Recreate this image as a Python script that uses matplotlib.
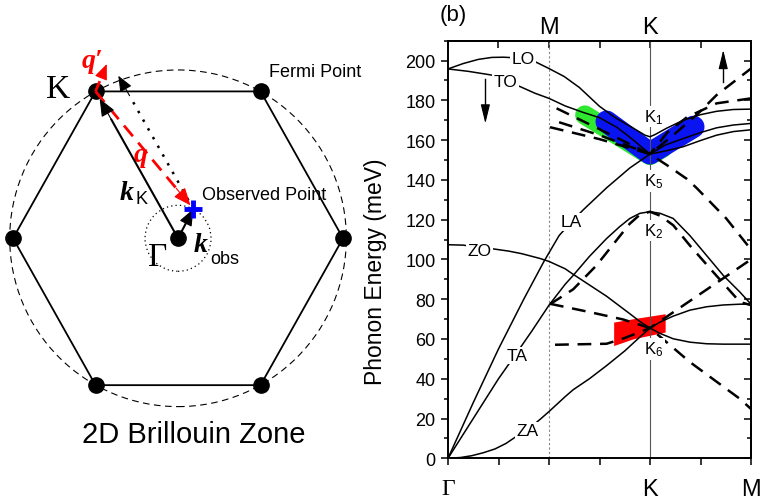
import matplotlib
matplotlib.use("Agg")
import matplotlib.pyplot as plt
from matplotlib.patches import Circle
from matplotlib.ticker import MultipleLocator

plt.rcParams["font.family"] = ["Liberation Sans", "DejaVu Sans"]
plt.rcParams["mathtext.fontset"] = "custom"
plt.rcParams["mathtext.rm"] = "Liberation Sans"
plt.rcParams["mathtext.it"] = "Liberation Sans:italic"
SERIF = ["Liberation Serif", "DejaVu Serif"]

# ---- (a) 2D Brillouin zone, lengths in units of |Gamma-K| ----
bz_x = [1.0, 0.5, -0.5, -1.0, -0.5, 0.5]
bz_y = [0.0, 0.89, 0.89, 0.0, -0.89, -0.89]
fermi_r = 1.02
obs_r = 0.20
gamma_pt = (0.0, 0.0)
k_pt = (-0.5, 0.89)
obs_pt = (0.093, 0.178)
q_prime_end = (-0.432, 1.056)
shift_end = (-0.362, 0.985)

# ---- (b) phonon branches along Gamma(0) - K(4) - M(6), M' marked at 2 ----
lo_x = [0, 0.3, 0.6, 0.87, 1.1, 1.48, 1.72, 2.0, 2.3, 2.6, 3.0, 3.3, 3.67, 3.9, 4.0,
        4.1, 4.33, 4.66, 5.0, 5.32, 5.65, 6.0]
lo_y = [195.8, 198.5, 200.6, 201.6, 201.7, 201.2, 199.5, 196.0, 192.0, 186.5, 177.0,
        171.5, 166.0, 162.5, 161.7, 162.8, 166.0, 170.0, 172.8, 174.5, 175.4, 175.6]
to_x = [0, 0.4, 0.87, 1.14, 1.43, 1.72, 2.0, 2.32, 2.67, 3.0, 3.34, 3.6, 3.85, 4.0,
        4.3, 4.66, 5.0, 5.32, 5.65, 6.0]
to_y = [195.8, 194.6, 192.7, 190.0, 186.9, 183.6, 181.0, 177.2, 174.0, 171.3, 166.5,
        161.5, 156.2, 153.0, 157.5, 160.8, 163.8, 166.2, 167.6, 168.4]
la_x = [0, 0.5, 1.0, 1.5, 1.9, 2.2, 2.45, 2.68, 3.14, 3.6, 4.0,
        4.3, 4.66, 5.0, 5.32, 5.65, 6.0]
la_y = [0, 28.0, 55.0, 80.0, 99.0, 112.0, 119.0, 125.0, 136.0, 146.0, 153.0,
        154.5, 156.7, 159.8, 162.5, 164.3, 165.2]
ta_x = [0, 0.5, 1.0, 1.36, 1.66, 2.0, 2.32, 2.48, 2.8, 3.14, 3.4, 3.6, 3.8, 4.0,
        4.2, 4.46, 4.79, 5.12, 5.45, 5.78, 6.0]
ta_y = [0, 20.0, 40.0, 53.0, 64.0, 77.0, 87.5, 92.0, 101.5, 110.5, 116.5, 120.6,
        123.2, 124.0, 123.2, 120.6, 112.0, 102.0, 92.0, 83.6, 77.5]
zo_x = [0, 0.3, 0.62, 0.87, 1.2, 1.46, 1.82, 2.0, 2.32, 2.48, 2.81, 3.14, 3.6, 3.8,
        4.0, 4.2, 4.46, 4.79, 5.12, 5.45, 6.0]
zo_y = [107.4, 107.2, 106.0, 105.4, 104.2, 102.9, 100.5, 99.0, 95.3, 92.5, 87.0,
        81.5, 72.7, 68.8, 65.5, 62.8, 60.1, 58.4, 57.6, 57.4, 57.4]
za_x = [0, 0.25, 0.47, 0.7, 0.93, 1.15, 1.33, 1.58, 1.82, 2.0, 2.32, 2.48, 2.8, 3.14,
        3.5, 3.8, 4.0, 4.2, 4.46, 4.79, 5.12, 5.45, 5.78, 6.0]
za_y = [0, 0.4, 1.3, 2.8, 4.7, 7.5, 10.6, 14.5, 19.5, 23.5, 31.0, 34.5, 40.0, 46.6,
        54.0, 61.0, 65.5, 68.5, 71.5, 74.5, 76.2, 77.1, 77.5, 77.5]

# folded (shifted) branches, dashed
fold1_x = [2.15, 3.0, 4.0, 4.33, 4.73, 4.92, 5.51, 6.0]
fold1_y = [176.0, 165.5, 153.0, 147.5, 140.5, 136.0, 120.6, 105.0]
fold2_x = [2.02, 3.0, 4.0, 4.46, 4.92, 5.32, 6.0]
fold2_y = [166.5, 160.5, 153.0, 162.5, 172.6, 182.7, 196.0]
fold3_x = [2.2, 3.0, 4.0, 4.35, 4.73, 5.32, 6.0]
fold3_y = [169.0, 162.5, 153.0, 164.0, 171.5, 178.5, 181.0]
fold4_x = [2.02, 2.48, 2.94, 3.41, 3.6, 3.8, 4.0, 4.2, 4.46, 4.79, 5.25, 5.78, 6.0]
fold4_y = [77.5, 85.0, 97.0, 112.0, 118.0, 122.5, 124.0, 122.0, 117.2, 107.0, 93.7,
           78.6, 77.0]
fold5_x = [2.02, 2.81, 3.47, 4.0, 4.79, 5.78, 6.0]
fold5_y = [77.7, 73.5, 69.8, 65.5, 48.4, 29.9, 24.8]
fold6_x = [2.12, 3.14, 3.5, 4.0, 6.0]
fold6_y = [57.1, 57.6, 60.5, 65.5, 100.0]

# observed intensity traces
green_x = [2.71, 4.0, 4.25]
green_y = [172.6, 152.3, 156.0]
blue_x = [3.14, 4.0, 4.86]
blue_y = [169.3, 153.3, 166.7]
red_x = [3.28, 3.67, 4.3]
red_lo = [56.7, 60.1, 63.5]
red_hi = [68.5, 70.2, 72.7]

branch_names = ["LO", "TO", "LA", "TA", "ZO", "ZA"]
name_x = [1.48, 1.14, 2.45, 1.36, 0.62, 1.58]
name_y = [201.2, 189.4, 119.0, 51.7, 104.6, 13.9]
kpt_names = ["K$_\\mathregular{1}$", "K$_\\mathregular{5}$", "K$_\\mathregular{2}$",
             "K$_\\mathregular{6}$"]
kpt_y = [172.0, 139.5, 114.7, 55.0]


def arrow(ax, start, end, color, lw, ls="-", hl=0.6, hw=0.25, scale=16, frac=1.0):
    tip = (start[0] + frac * (end[0] - start[0]), start[1] + frac * (end[1] - start[1]))
    base = (start[0] + 0.85 * (tip[0] - start[0]), start[1] + 0.85 * (tip[1] - start[1]))
    ax.plot([start[0], base[0]], [start[1], base[1]], color=color, lw=lw, ls=ls, zorder=4)
    ax.annotate("", xy=tip, xytext=base,
                arrowprops=dict(arrowstyle=f"-|>,head_length={hl},head_width={hw}",
                                color=color, lw=0.8, shrinkA=0, shrinkB=0,
                                mutation_scale=scale), zorder=5)


fig = plt.figure(figsize=(7.68, 5.02), dpi=100)

# ---------------- panel (a) ----------------
ax_bz = fig.add_axes([0, 0, 380 / 768, 1])
ax_bz.set_xlim(-1.079, 1.224)
ax_bz.set_ylim(-1.592, 1.450)
ax_bz.axis("off")

ax_bz.add_patch(Circle(gamma_pt, fermi_r, fill=False, color="black", lw=0.8,
                       ls=(0, (6, 4))))
ax_bz.add_patch(Circle(gamma_pt, obs_r, fill=False, color="black", lw=0.9,
                       ls=(0, (1, 2.5))))
ax_bz.plot(bz_x + bz_x[:1], bz_y + bz_y[:1], color="black", lw=1.3, zorder=2)
ax_bz.plot(bz_x + [gamma_pt[0]], bz_y + [gamma_pt[1]], "o", color="black", ms=11,
           ls="none", zorder=3)

arrow(ax_bz, gamma_pt, k_pt, "black", 1.5, frac=0.95, scale=18)
arrow(ax_bz, gamma_pt, obs_pt, "black", 1.5, hl=0.7, hw=0.28, scale=15)
arrow(ax_bz, k_pt, obs_pt, "red", 2.0, ls=(0, (5, 3)), scale=18, frac=0.97)
arrow(ax_bz, k_pt, q_prime_end, "red", 2.0, ls=(0, (4, 2)), scale=16)
arrow(ax_bz, obs_pt, shift_end, "black", 1.8, ls=(0, (1, 3)), scale=16)
ax_bz.plot([obs_pt[0]], [obs_pt[1]], "+", color="blue", ms=13, mew=3.5, zorder=6)

ax_bz.text(-0.727, 0.905, "K", family=SERIF, fontsize=24, ha="center", va="center")
ax_bz.text(-0.121, -0.113, "Γ", family=SERIF, fontsize=24, ha="center", va="center")
ax_bz.text(0.83, 1.008, "Fermi Point", fontsize=13, ha="center", va="center")
ax_bz.text(0.145, 0.268, "Observed Point", fontsize=13, ha="left", va="center")
ax_bz.text(-0.224, 0.505, "q", family=SERIF, color="red", fontsize=20,
           style="italic", weight="bold", ha="center", va="center")
ax_bz.text(-0.521, 1.075, "q′", family=SERIF, color="red", fontsize=20,
           style="italic", weight="bold", ha="center", va="center")
ax_bz.text(-0.311, 0.275, "k", family=SERIF, fontsize=20, style="italic",
           weight="bold", ha="center", va="center")
ax_bz.text(-0.22, 0.24, "K", fontsize=13, ha="center", va="center")
ax_bz.text(0.138, -0.04, "k", family=SERIF, fontsize=20, style="italic",
           weight="bold", ha="center", va="center")
ax_bz.text(0.285, -0.12, "obs", fontsize=13, ha="center", va="center")
ax_bz.text(0.094, -1.186, "2D Brillouin Zone", fontsize=21, ha="center", va="center")

# ---------------- panel (b) ----------------
ax = fig.add_axes([448 / 768, 1 - 459.3 / 502, 303 / 768, 417.6 / 502])
ax.set_xlim(0, 6)
ax.set_ylim(0, 210)

ax.fill_between(red_x, red_lo, red_hi, color="red", lw=0, zorder=1)
ax.plot(green_x, green_y, color="#2fe82f", lw=14, solid_capstyle="round",
        solid_joinstyle="round", zorder=1)
ax.plot(blue_x, blue_y, color="#0a14f0", lw=16, solid_capstyle="round",
        solid_joinstyle="round", zorder=1.5)

ax.axvline(4, color="#555555", lw=0.8, zorder=2)
ax.axvline(2, color="#888888", lw=0.8, ls=(0, (2, 2)), zorder=2)

for bx, by in [(lo_x, lo_y), (to_x, to_y), (la_x, la_y), (ta_x, ta_y),
               (zo_x, zo_y), (za_x, za_y)]:
    ax.plot(bx, by, color="black", lw=1.1, zorder=3)
for fx, fy in [(fold1_x, fold1_y), (fold2_x, fold2_y), (fold3_x, fold3_y),
               (fold4_x, fold4_y), (fold5_x, fold5_y), (fold6_x, fold6_y)]:
    ax.plot(fx, fy, color="black", lw=1.8, dashes=(5.5, 3.5), zorder=3)

box = dict(boxstyle="square,pad=0.08", fc="white", ec="none")
for name, nx, ny in zip(branch_names, name_x, name_y):
    ax.text(nx, ny, name, fontsize=12.5, ha="center", va="center", bbox=box, zorder=5)
for name, ky in zip(kpt_names, kpt_y):
    ax.text(3.88, ky, name, fontsize=12, ha="left", va="center", bbox=box, zorder=5)

arrow(ax, (0.74, 190.6), (0.74, 168.4), "black", 1.0, hl=0.9, hw=0.22, scale=13)
arrow(ax, (5.45, 189.4), (5.45, 205.3), "black", 1.0, hl=0.9, hw=0.22, scale=13)

ax.yaxis.set_major_locator(MultipleLocator(20))
ax.yaxis.set_minor_locator(MultipleLocator(10))
ax.set_xticks(range(7))
ax.set_xticklabels(["Γ", "", "", "", "K", "", "M"])
ax.tick_params(axis="both", which="both", direction="out", top=False, right=False,
               width=1.1)
ax.tick_params(axis="y", which="major", length=5, labelsize=13, pad=4)
ax.tick_params(axis="y", which="minor", length=3)
ax.tick_params(axis="x", which="major", length=5, labelsize=17, pad=9)
ax.get_xticklabels()[0].set_fontfamily(SERIF)
for s in ax.spines.values():
    s.set_linewidth(1.4)

sec_y = ax.secondary_yaxis("right")
sec_y.yaxis.set_major_locator(MultipleLocator(20))
sec_y.yaxis.set_minor_locator(MultipleLocator(10))
sec_y.tick_params(which="both", direction="in", labelright=False, width=1.1)
sec_y.tick_params(which="major", length=5)
sec_y.tick_params(which="minor", length=3)
sec_y.spines["right"].set_linewidth(1.4)

sec_x = ax.secondary_xaxis("top")
sec_x.set_xticks(range(7))
sec_x.set_xticklabels(["", "", "M", "", "K", "", ""])
sec_x.tick_params(direction="in", length=5, width=1.1, labelsize=17, pad=2)
sec_x.spines["top"].set_linewidth(1.4)

ax.set_ylabel("Phonon Energy (meV)", fontsize=16.5)
ax.yaxis.set_label_coords(-0.20, 0.45)

fig.text(453 / 768, 1 - 15 / 502, "(b)", fontsize=16, ha="center", va="center")

fig.savefig("out.png", dpi=100)
